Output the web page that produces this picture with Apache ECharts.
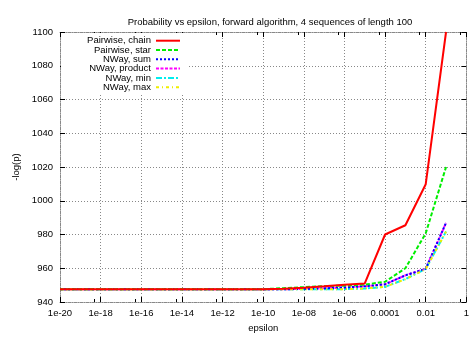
<!DOCTYPE html>
<html>
<head>
<meta charset="utf-8">
<script src="https://cdn.jsdelivr.net/npm/echarts@6/dist/echarts.min.js"></script>
<style>
  html, body { margin: 0; padding: 0; background: #fff; }
  #chart { width: 472px; height: 338px; }
</style>
</head>
<body>
<div id="chart"></div>
<script>
// epsilon values, one per decade
const epsilon = [1e-20, 1e-19, 1e-18, 1e-17, 1e-16, 1e-15, 1e-14, 1e-13, 1e-12, 1e-11,
                 1e-10, 1e-9, 1e-8, 1e-7, 1e-6, 1e-5, 1e-4, 1e-3, 1e-2, 1e-1];

// -log(p) for each method
const pairwiseChain = [947.5, 947.5, 947.5, 947.5, 947.5, 947.5, 947.5, 947.5, 947.5, 947.5,
                       947.6, 947.9, 948.5, 949.3, 950.2, 951.0, 980.0, 985.5, 1009.8, 1100.0];
const pairwiseStar  = [947.5, 947.5, 947.5, 947.5, 947.5, 947.5, 947.5, 947.5, 947.5, 947.5,
                       947.6, 948.2, 948.8, 949.4, 949.7, 950.3, 952.0, 960.0, 980.7, 1020.0];
const nwaySum       = [947.5, 947.5, 947.5, 947.5, 947.5, 947.5, 947.5, 947.5, 947.5, 947.5,
                       947.5, 947.5, 947.8, 948.1, 948.6, 949.3, 950.5, 955.8, 959.7, 986.9];
const nwayProduct   = [947.5, 947.5, 947.5, 947.5, 947.5, 947.5, 947.5, 947.5, 947.5, 947.5,
                       947.5, 947.5, 947.8, 948.1, 948.6, 949.3, 950.5, 955.8, 959.7, 986.9];
const nwayMin       = [947.5, 947.5, 947.5, 947.5, 947.5, 947.5, 947.5, 947.5, 947.5, 947.5,
                       947.5, 947.5, 947.5, 947.5, 947.6, 948.0, 949.0, 953.6, 959.6, 981.8];
const nwayMax       = [947.5, 947.5, 947.5, 947.5, 947.5, 947.5, 947.5, 947.5, 947.5, 947.5,
                       947.5, 947.5, 947.5, 947.5, 947.6, 948.0, 949.0, 953.5, 959.5, 981.7];

const seriesNames = ['Pairwise, chain', 'Pairwise, star', 'NWay, sum', 'NWay, product', 'NWay, min', 'NWay, max'];
const seriesData = [pairwiseChain, pairwiseStar, nwaySum, nwayProduct, nwayMin, nwayMax];
const seriesColors = ['#ff0000', '#00ee00', '#0000ff', '#ff00ff', '#00eeee', '#eeee00'];
const seriesDash = ['solid', [4, 2], [2, 2], [3, 1.5], [6, 2, 2, 2], [3, 3, 1, 3]];
// drawing order: sum above product, max above min
const seriesZ = [8, 7, 6, 5, 5, 6];

const FONT = 'Liberation Sans, Arial, sans-serif';
const FS = 9.5;

function epsLabel(v) {
  const e = Math.round(Math.log10(v));
  if (e >= -4) return (Math.pow(10, e)).toFixed(Math.max(0, -e));
  return '1e-' + String(-e).padStart(2, '0');
}

const gridLine = { show: true, lineStyle: { color: '#888', type: [1, 2], width: 1 } };
const borderLine = { show: true, lineStyle: { color: '#888', type: [1, 1], width: 1 } };
const tickStyle = { show: true, inside: true, length: 5, lineStyle: { color: '#000', width: 1 } };

const xCommon = {
  type: 'log', logBase: 10, min: 1e-20, max: 1, interval: 2,
  axisLine: borderLine,
  axisTick: tickStyle,
  minorTick: { show: true, splitNumber: 2, length: 3, lineStyle: { color: '#000' } }
};

const chart = echarts.init(document.getElementById('chart'), null, { renderer: 'canvas' });

// one legend per entry so each one is right-aligned against its key line
const legendTop = [35.7, 45, 54.2, 63.6, 73, 82.3];
const legends = seriesNames.map((name, i) => ({
  data: [name],
  right: 291, top: legendTop[i],
  align: 'right', orient: 'vertical',
  itemWidth: 24, itemHeight: 10, padding: 0, z: 6,
  itemStyle: { opacity: 0 },
  textStyle: { fontFamily: FONT, fontSize: FS, color: '#000', padding: [0, 0, 0, 0] },
  selectedMode: false
}));

chart.setOption({
  animation: false,
  backgroundColor: '#fff',
  title: {
    text: 'Probability vs epsilon, forward algorithm, 4 sequences of length 100',
    left: 265, top: 12, textAlign: 'center',
    textStyle: { fontFamily: FONT, fontSize: FS, fontWeight: 'normal', color: '#000' }
  },
  legend: legends,
  graphic: [{
    type: 'rect', z: 3,
    shape: { x: 61, y: 33, width: 126, height: 60 },
    style: { fill: '#fff' }
  }],
  grid: { left: 60, right: 1, top: 32, bottom: 27 },
  xAxis: [
    Object.assign({}, xCommon, {
      position: 'bottom',
      name: 'epsilon', nameLocation: 'middle', nameGap: 21,
      nameTextStyle: { fontFamily: FONT, fontSize: FS, color: '#000' },
      splitLine: gridLine,
      axisLabel: { fontFamily: FONT, fontSize: FS, color: '#000', margin: 6, formatter: epsLabel, showMinLabel: true, showMaxLabel: true }
    }),
    Object.assign({}, xCommon, {
      position: 'top',
      splitLine: { show: false },
      axisLabel: { show: false }
    })
  ],
  yAxis: [
    {
      type: 'value', min: 940, max: 1100, interval: 20, position: 'left',
      name: '-log(p)', nameLocation: 'middle', nameGap: 39,
      nameTextStyle: { fontFamily: FONT, fontSize: FS, color: '#000' },
      axisLine: borderLine, axisTick: tickStyle,
      splitLine: gridLine,
      axisLabel: { fontFamily: FONT, fontSize: FS, color: '#000', margin: 7, formatter: v => String(v) }
    },
    {
      type: 'value', min: 940, max: 1100, interval: 20, position: 'right',
      axisLine: borderLine, axisTick: tickStyle,
      splitLine: { show: false }, axisLabel: { show: false }
    }
  ],
  series: seriesNames.map((name, i) => ({
    name: name,
    type: 'line',
    xAxisIndex: 0, yAxisIndex: 0,
    data: epsilon.map((e, k) => [e, seriesData[i][k]]),
    showSymbol: false, symbol: 'none',
    clip: true,
    z: seriesZ[i],
    lineStyle: { color: seriesColors[i], width: 2, type: seriesDash[i] },
    itemStyle: { color: seriesColors[i] }
  }))
});
</script>
</body>
</html>
